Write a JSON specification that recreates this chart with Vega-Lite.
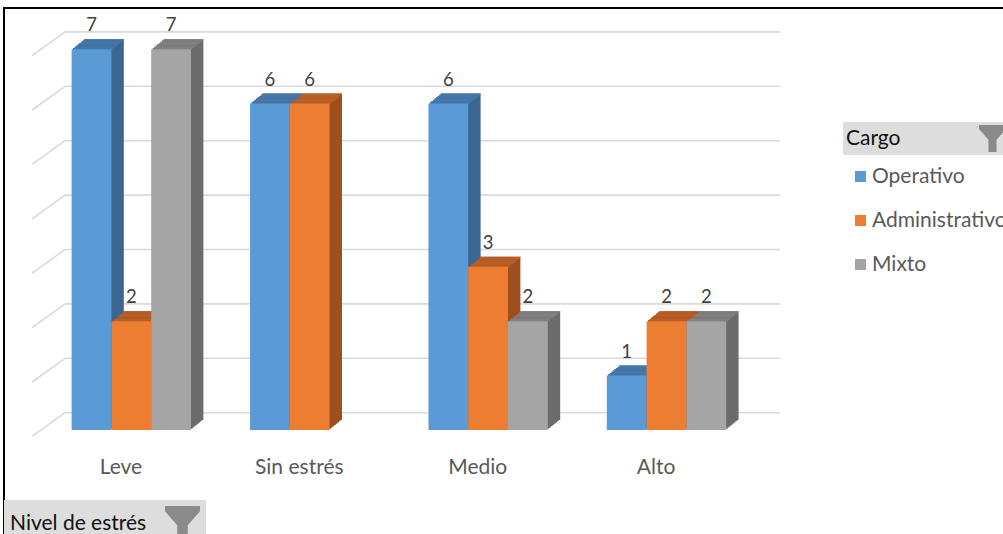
{
  "$schema": "https://vega.github.io/schema/vega-lite/v6.json",
  "width": 1001,
  "height": 528,
  "autosize": "none",
  "padding": {"left": 4, "top": 8, "right": -2, "bottom": -2},
  "background": "white",
  "config": {"view": {"stroke": "#000000", "strokeWidth": 2}, "font": "Lato"},
  "datasets": {
    "barras": [
      {"Nivel": "Leve", "Cargo": "Operativo", "Valor": 7},
      {"Nivel": "Leve", "Cargo": "Administrativo", "Valor": 2},
      {"Nivel": "Leve", "Cargo": "Mixto", "Valor": 7},
      {"Nivel": "Sin estrés", "Cargo": "Operativo", "Valor": 6},
      {"Nivel": "Sin estrés", "Cargo": "Administrativo", "Valor": 6},
      {"Nivel": "Medio", "Cargo": "Operativo", "Valor": 6},
      {"Nivel": "Medio", "Cargo": "Administrativo", "Valor": 3},
      {"Nivel": "Medio", "Cargo": "Mixto", "Valor": 2},
      {"Nivel": "Alto", "Cargo": "Operativo", "Valor": 1},
      {"Nivel": "Alto", "Cargo": "Administrativo", "Valor": 2},
      {"Nivel": "Alto", "Cargo": "Mixto", "Valor": 2}
    ],
    "rejilla": [
      {"marca": 0}, {"marca": 1}, {"marca": 2}, {"marca": 3},
      {"marca": 4}, {"marca": 5}, {"marca": 6}, {"marca": 7}
    ]
  },
  "data": {"name": "barras"},
  "layer": [
    {
      "data": {"name": "rejilla"},
      "mark": {"type": "rule", "stroke": "#d9d9d9", "strokeWidth": 1.6, "xOffset": -66.2, "x2Offset": 113.6, "yOffset": -17.3},
      "encoding": {
        "x": {"datum": "Leve", "type": "nominal",
              "axis": {"title": null, "orient": "bottom", "offset": -69, "domain": false, "ticks": false, "tickSize": 0, "grid": false, "labelAngle": 0, "labelAlign": "center", "labelPadding": 0, "labelBaseline": "middle", "labelOffset": -10.4, "labelFont": "Lato", "labelFontSize": 21, "labelColor": "#595959"},
              "scale": {"domain": ["Leve", "Sin estrés", "Medio", "Alto"], "paddingInner": 0.331, "paddingOuter": 0.971, "align": 0.1952}},
        "x2": {"datum": "Alto"},
        "y": {"field": "marca", "type": "quantitative", "axis": null,
              "scale": {"domain": [-1.949, 7.757], "nice": false, "zero": false}}
      }
    },
    {
      "data": {"name": "rejilla"},
      "mark": {"type": "rule", "stroke": "#d9d9d9", "strokeWidth": 1.6, "xOffset": -66.2, "x2Offset": -99.2, "yOffset": -17.3, "y2Offset": 6.4},
      "encoding": {
        "x": {"datum": "Leve", "type": "nominal"},
        "x2": {"datum": "Leve"},
        "y": {"field": "marca", "type": "quantitative", "axis": null},
        "y2": {"field": "marca"}
      }
    },
    {
      "encoding": {
        "x": {"field": "Nivel", "type": "nominal"},
        "y": {"field": "Valor", "type": "quantitative", "axis": null},
        "y2": {"datum": 0}
      },
      "layer": [
        {"mark": {"type": "bar", "width": {"expr": "bandwidth('x')/3"}, "xOffset": {"expr": "(indexof(['Operativo','Administrativo','Mixto'], datum.Cargo) - 1) * bandwidth('x') / 3 + 1.55"}, "yOffset": -1.25, "y2Offset": -1.25, "fill": {"expr": "datum.Cargo === 'Operativo' ? '#3b6690' : datum.Cargo === 'Administrativo' ? '#9e4f1d' : '#6b6b6b'"}}},
        {"mark": {"type": "bar", "width": {"expr": "bandwidth('x')/3"}, "xOffset": {"expr": "(indexof(['Operativo','Administrativo','Mixto'], datum.Cargo) - 1) * bandwidth('x') / 3 + 3.1"}, "yOffset": -2.5, "y2Offset": -2.5, "fill": {"expr": "datum.Cargo === 'Operativo' ? '#3b6690' : datum.Cargo === 'Administrativo' ? '#9e4f1d' : '#6b6b6b'"}}},
        {"mark": {"type": "bar", "width": {"expr": "bandwidth('x')/3"}, "xOffset": {"expr": "(indexof(['Operativo','Administrativo','Mixto'], datum.Cargo) - 1) * bandwidth('x') / 3 + 4.65"}, "yOffset": -3.75, "y2Offset": -3.75, "fill": {"expr": "datum.Cargo === 'Operativo' ? '#3b6690' : datum.Cargo === 'Administrativo' ? '#9e4f1d' : '#6b6b6b'"}}},
        {"mark": {"type": "bar", "width": {"expr": "bandwidth('x')/3"}, "xOffset": {"expr": "(indexof(['Operativo','Administrativo','Mixto'], datum.Cargo) - 1) * bandwidth('x') / 3 + 6.2"}, "yOffset": -5, "y2Offset": -5, "fill": {"expr": "datum.Cargo === 'Operativo' ? '#3b6690' : datum.Cargo === 'Administrativo' ? '#9e4f1d' : '#6b6b6b'"}}},
        {"mark": {"type": "bar", "width": {"expr": "bandwidth('x')/3"}, "xOffset": {"expr": "(indexof(['Operativo','Administrativo','Mixto'], datum.Cargo) - 1) * bandwidth('x') / 3 + 7.75"}, "yOffset": -6.25, "y2Offset": -6.25, "fill": {"expr": "datum.Cargo === 'Operativo' ? '#3b6690' : datum.Cargo === 'Administrativo' ? '#9e4f1d' : '#6b6b6b'"}}},
        {"mark": {"type": "bar", "width": {"expr": "bandwidth('x')/3"}, "xOffset": {"expr": "(indexof(['Operativo','Administrativo','Mixto'], datum.Cargo) - 1) * bandwidth('x') / 3 + 9.3"}, "yOffset": -7.5, "y2Offset": -7.5, "fill": {"expr": "datum.Cargo === 'Operativo' ? '#3b6690' : datum.Cargo === 'Administrativo' ? '#9e4f1d' : '#6b6b6b'"}}},
        {"mark": {"type": "bar", "width": {"expr": "bandwidth('x')/3"}, "xOffset": {"expr": "(indexof(['Operativo','Administrativo','Mixto'], datum.Cargo) - 1) * bandwidth('x') / 3 + 10.85"}, "yOffset": -8.75, "y2Offset": -8.75, "fill": {"expr": "datum.Cargo === 'Operativo' ? '#3b6690' : datum.Cargo === 'Administrativo' ? '#9e4f1d' : '#6b6b6b'"}}},
        {"mark": {"type": "bar", "width": {"expr": "bandwidth('x')/3"}, "xOffset": {"expr": "(indexof(['Operativo','Administrativo','Mixto'], datum.Cargo) - 1) * bandwidth('x') / 3 + 12.4"}, "yOffset": -10, "y2Offset": -10, "fill": {"expr": "datum.Cargo === 'Operativo' ? '#3b6690' : datum.Cargo === 'Administrativo' ? '#9e4f1d' : '#6b6b6b'"}}}
      ]
    },
    {
      "encoding": {
        "x": {"field": "Nivel", "type": "nominal"},
        "y": {"field": "Valor", "type": "quantitative", "axis": null},
        "y2": {"field": "Valor"}
      },
      "layer": [
        {"mark": {"type": "bar", "width": {"expr": "bandwidth('x')/3"}, "xOffset": {"expr": "(indexof(['Operativo','Administrativo','Mixto'], datum.Cargo) - 1) * bandwidth('x') / 3 + 1.55"}, "yOffset": -1.25, "y2Offset": 0.1, "fill": {"expr": "datum.Cargo === 'Operativo' ? '#4677aa' : datum.Cargo === 'Administrativo' ? '#b95e24' : '#818181'"}}},
        {"mark": {"type": "bar", "width": {"expr": "bandwidth('x')/3"}, "xOffset": {"expr": "(indexof(['Operativo','Administrativo','Mixto'], datum.Cargo) - 1) * bandwidth('x') / 3 + 3.1"}, "yOffset": -2.5, "y2Offset": -1.15, "fill": {"expr": "datum.Cargo === 'Operativo' ? '#4677aa' : datum.Cargo === 'Administrativo' ? '#b95e24' : '#818181'"}}},
        {"mark": {"type": "bar", "width": {"expr": "bandwidth('x')/3"}, "xOffset": {"expr": "(indexof(['Operativo','Administrativo','Mixto'], datum.Cargo) - 1) * bandwidth('x') / 3 + 4.65"}, "yOffset": -3.75, "y2Offset": -2.4, "fill": {"expr": "datum.Cargo === 'Operativo' ? '#4677aa' : datum.Cargo === 'Administrativo' ? '#b95e24' : '#818181'"}}},
        {"mark": {"type": "bar", "width": {"expr": "bandwidth('x')/3"}, "xOffset": {"expr": "(indexof(['Operativo','Administrativo','Mixto'], datum.Cargo) - 1) * bandwidth('x') / 3 + 6.2"}, "yOffset": -5, "y2Offset": -3.65, "fill": {"expr": "datum.Cargo === 'Operativo' ? '#4677aa' : datum.Cargo === 'Administrativo' ? '#b95e24' : '#818181'"}}},
        {"mark": {"type": "bar", "width": {"expr": "bandwidth('x')/3"}, "xOffset": {"expr": "(indexof(['Operativo','Administrativo','Mixto'], datum.Cargo) - 1) * bandwidth('x') / 3 + 7.75"}, "yOffset": -6.25, "y2Offset": -4.9, "fill": {"expr": "datum.Cargo === 'Operativo' ? '#4677aa' : datum.Cargo === 'Administrativo' ? '#b95e24' : '#818181'"}}},
        {"mark": {"type": "bar", "width": {"expr": "bandwidth('x')/3"}, "xOffset": {"expr": "(indexof(['Operativo','Administrativo','Mixto'], datum.Cargo) - 1) * bandwidth('x') / 3 + 9.3"}, "yOffset": -7.5, "y2Offset": -6.15, "fill": {"expr": "datum.Cargo === 'Operativo' ? '#4677aa' : datum.Cargo === 'Administrativo' ? '#b95e24' : '#818181'"}}},
        {"mark": {"type": "bar", "width": {"expr": "bandwidth('x')/3"}, "xOffset": {"expr": "(indexof(['Operativo','Administrativo','Mixto'], datum.Cargo) - 1) * bandwidth('x') / 3 + 10.85"}, "yOffset": -8.75, "y2Offset": -7.4, "fill": {"expr": "datum.Cargo === 'Operativo' ? '#4677aa' : datum.Cargo === 'Administrativo' ? '#b95e24' : '#818181'"}}},
        {"mark": {"type": "bar", "width": {"expr": "bandwidth('x')/3"}, "xOffset": {"expr": "(indexof(['Operativo','Administrativo','Mixto'], datum.Cargo) - 1) * bandwidth('x') / 3 + 12.4"}, "yOffset": -10, "y2Offset": -8.65, "fill": {"expr": "datum.Cargo === 'Operativo' ? '#4677aa' : datum.Cargo === 'Administrativo' ? '#b95e24' : '#818181'"}}}
      ]
    },
    {
      "mark": {"type": "bar", "width": {"expr": "bandwidth('x')/3"}, "xOffset": {"expr": "(indexof(['Operativo','Administrativo','Mixto'], datum.Cargo) - 1) * bandwidth('x') / 3"}},
      "encoding": {
        "x": {"field": "Nivel", "type": "nominal",
              "axis": {"title": null, "orient": "bottom", "offset": -69, "domain": false, "ticks": false, "tickSize": 0, "grid": false, "labelAngle": 0, "labelAlign": "center", "labelPadding": 0, "labelBaseline": "middle", "labelOffset": -10.4, "labelFont": "Lato", "labelFontSize": 21, "labelColor": "#595959"}},
        "y": {"field": "Valor", "type": "quantitative", "axis": null},
        "y2": {"datum": 0},
        "color": {"field": "Cargo", "type": "nominal",
                  "scale": {"domain": ["Operativo", "Administrativo", "Mixto"], "range": ["#5b9bd5", "#ed7d31", "#a5a5a5"]},
                  "legend": {"title": null, "orient": "none", "legendX": 846, "legendY": 158, "padding": 0, "symbolType": "square", "symbolSize": 121, "symbolStrokeWidth": 0, "labelFont": "Lato", "labelFontSize": 21, "labelColor": "#595959", "labelOffset": 1, "rowPadding": 22, "labelLimit": 400}}
      }
    },
    {
      "mark": {"type": "text", "font": "Lato", "fontSize": 18.5, "fill": "#404040", "baseline": "alphabetic", "align": "center", "yOffset": -18, "xOffset": {"expr": "(indexof(['Operativo','Administrativo','Mixto'], datum.Cargo) - 1) * bandwidth('x') / 3"}},
      "encoding": {
        "x": {"field": "Nivel", "type": "nominal"},
        "y": {"field": "Valor", "type": "quantitative", "axis": null},
        "text": {"field": "Valor", "type": "quantitative"}
      }
    },
    {
      "mark": {"type": "point", "opacity": 0, "filled": true, "color": "#8a8a8a"},
      "encoding": {
        "shape": {"datum": "embudo", "type": "nominal",
                  "scale": {"range": ["M-1,-1L1,-1L1,-0.7L0.3,0.1L0.3,1L-0.3,1L-0.3,0.1L-1,-0.7Z"]},
                  "legend": {"title": "Cargo", "orient": "none", "legendX": 839, "legendY": 114, "direction": "horizontal", "titleOrient": "left", "titleFont": "Lato", "titleFontSize": 21, "titleFontWeight": "normal", "titleColor": "#111111", "titlePadding": 78, "fillColor": "#dddddd", "padding": 3, "symbolSize": 729, "symbolFillColor": "#8a8a8a", "symbolStrokeColor": "#8a8a8a", "symbolStrokeWidth": 0, "symbolOpacity": 1, "labelExpr": "''", "labelOffset": 0}}
      }
    },
    {
      "mark": {"type": "point", "opacity": 0, "filled": true, "color": "#8a8a8a"},
      "encoding": {
        "strokeDash": {"datum": "embudo2", "type": "nominal",
                  "legend": {"title": "Nivel de estrés", "orient": "none", "legendX": 0, "legendY": 492, "direction": "horizontal", "titleOrient": "left", "titleFont": "Lato", "titleFontSize": 21, "titleFontWeight": "normal", "titleColor": "#111111", "titlePadding": 18, "fillColor": "#dddddd", "padding": 6, "symbolType": "M-1,-1L1,-1L1,-0.7L0.3,0.1L0.3,1L-0.3,1L-0.3,0.1L-1,-0.7Z", "symbolSize": 1225, "symbolFillColor": "#8a8a8a", "symbolStrokeColor": "#8a8a8a", "symbolStrokeWidth": 0, "symbolOpacity": 1, "labelExpr": "''", "labelOffset": 0}}
      }
    }
  ]
}
